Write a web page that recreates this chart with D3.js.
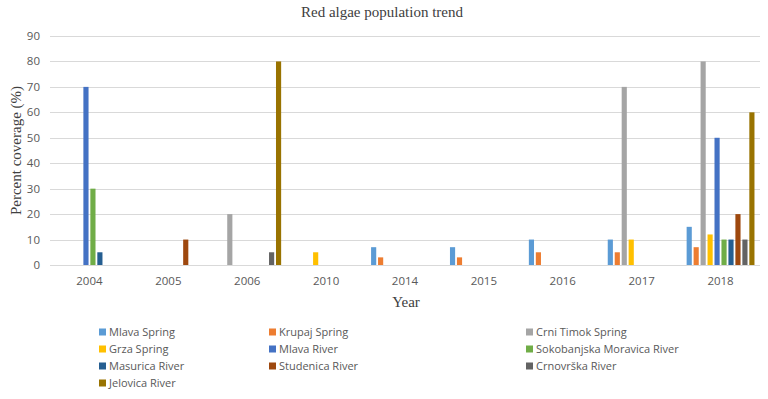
<!DOCTYPE html>
<html>
<head>
<meta charset="utf-8">
<script src="https://cdn.jsdelivr.net/npm/d3@7"></script>
<style>
  html, body { margin: 0; padding: 0; background: #fff; }
  svg { display: block; }
</style>
</head>
<body>
<div id="chart"></div>
<script>
// chart data

const years = ["2004", "2005", "2006", "2010", "2014", "2015", "2016", "2017", "2018"];
const seriesNames = [
  "Mlava Spring", "Krupaj Spring", "Crni Timok Spring", "Grza Spring", "Mlava River",
  "Sokobanjska Moravica River", "Masurica River", "Studenica River", "Crnovrška River", "Jelovica River"
];
const seriesColors = ["#5b9bd5", "#ed7d31", "#a5a5a5", "#ffc000", "#4472c4",
  "#70ad47", "#255e91", "#9e480e", "#636363", "#997300"];

// one array per series, in the order of years (0 = no bar)
const mlavaSpring     = [0, 0, 0, 0, 7, 7, 10, 10, 15];
const krupajSpring    = [0, 0, 0, 0, 3, 3, 5, 5, 7];
const crniTimokSpring = [0, 0, 20, 0, 0, 0, 0, 70, 80];
const grzaSpring      = [0, 0, 0, 5, 0, 0, 0, 10, 12];
const mlavaRiver      = [70, 0, 0, 0, 0, 0, 0, 0, 50];
const sokobanjska     = [30, 0, 0, 0, 0, 0, 0, 0, 10];
const masurica        = [5, 0, 0, 0, 0, 0, 0, 0, 10];
const studenica       = [0, 10, 0, 0, 0, 0, 0, 0, 20];
const crnovrska       = [0, 0, 5, 0, 0, 0, 0, 0, 10];
const jelovica        = [0, 0, 80, 0, 0, 0, 0, 0, 60];

const yTicks = [0, 10, 20, 30, 40, 50, 60, 70, 80, 90];

const allSeries = [mlavaSpring, krupajSpring, crniTimokSpring, grzaSpring, mlavaRiver,
  sokobanjska, masurica, studenica, crnovrska, jelovica];

const width = 768, height = 399;
const margin = {left: 50, right: 8, top: 36, bottom: 134};

const svg = d3.select("#chart").append("svg")
    .attr("width", width)
    .attr("height", height);

const x0 = d3.scaleBand()
    .domain(years)
    .range([margin.left, width - margin.right])
    .paddingInner(0.14)
    .paddingOuter(0.07);

const x1 = d3.scaleBand()
    .domain(seriesNames)
    .range([0, x0.bandwidth()])
    .paddingInner(0.26);

const y = d3.scaleLinear()
    .domain([0, 90])
    .range([height - margin.bottom, margin.top]);

// gridlines
svg.append("g")
  .selectAll("line")
  .data(yTicks)
  .join("line")
    .attr("x1", margin.left)
    .attr("x2", width - margin.right)
    .attr("y1", d => Math.round(y(d)) + 0.5)
    .attr("y2", d => Math.round(y(d)) + 0.5)
    .attr("stroke", "#d9d9d9")
    .attr("stroke-width", 1);

// y tick labels
svg.append("g")
  .selectAll("text")
  .data(yTicks)
  .join("text")
    .attr("x", 40)
    .attr("y", d => y(d))
    .attr("dy", "0.35em")
    .attr("text-anchor", "end")
    .style("font-family", "'Open Sans', sans-serif")
    .style("font-size", "11.5px")
    .style("fill", "#595959")
    .text(d => d);

// x tick labels
svg.append("g")
  .selectAll("text")
  .data(years)
  .join("text")
    .attr("x", d => x0(d) + x0.bandwidth() / 2)
    .attr("y", 285)
    .attr("text-anchor", "middle")
    .style("font-family", "'Open Sans', sans-serif")
    .style("font-size", "11.5px")
    .style("fill", "#595959")
    .text(d => d);

// bars
const groups = svg.append("g")
  .selectAll("g")
  .data(seriesNames)
  .join("g")
    .attr("fill", (d, i) => seriesColors[i]);

groups.selectAll("rect")
  .data((name, i) => allSeries[i].map((v, j) => ({name, year: years[j], value: v})).filter(d => d.value > 0))
  .join("rect")
    .attr("x", d => x0(d.year) + x1(d.name))
    .attr("y", d => y(d.value))
    .attr("width", x1.bandwidth())
    .attr("height", d => y(0) - y(d.value));

// title
svg.append("text")
    .attr("x", 382)
    .attr("y", 17)
    .attr("text-anchor", "middle")
    .style("font-family", "'Liberation Serif', serif")
    .style("font-size", "15px")
    .style("fill", "#404040")
    .text("Red algae population trend");

// axis titles
svg.append("text")
    .attr("transform", `translate(21, ${y(45)}) rotate(-90)`)
    .attr("text-anchor", "middle")
    .style("font-family", "'Liberation Serif', serif")
    .style("font-size", "15px")
    .style("fill", "#404040")
    .text("Percent coverage (%)");

svg.append("text")
    .attr("x", 406)
    .attr("y", 307)
    .attr("text-anchor", "middle")
    .style("font-family", "'Liberation Serif', serif")
    .style("font-size", "15px")
    .style("fill", "#404040")
    .text("Year");

// legend, 3 columns
const legendCols = [99, 269, 526];
const legend = svg.append("g")
  .selectAll("g")
  .data(seriesNames)
  .join("g")
    .attr("transform", (d, i) => `translate(${legendCols[i % 3]}, ${332 + Math.floor(i / 3) * 17})`);

legend.append("rect")
    .attr("x", 0)
    .attr("y", -3.5)
    .attr("width", 7)
    .attr("height", 7)
    .attr("fill", (d, i) => seriesColors[i]);

legend.append("text")
    .attr("x", 10)
    .attr("y", 0)
    .attr("dy", "0.35em")
    .style("font-family", "'Open Sans', sans-serif")
    .style("font-size", "11px")
    .style("fill", "#595959")
    .text(d => d);
</script>
</body>
</html>
